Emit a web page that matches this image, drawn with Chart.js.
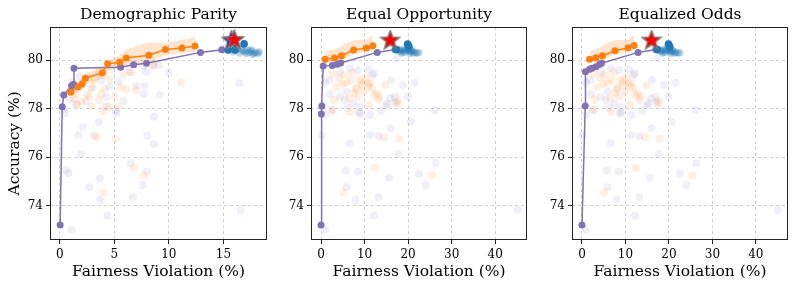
<!DOCTYPE html>
<html>
<head>
<meta charset="utf-8">
<script src="https://cdn.jsdelivr.net/npm/chart.js@4.4.1/dist/chart.umd.min.js"></script>
<style>
  html, body { margin: 0; padding: 0; background: #fff; width: 797px; height: 287px; overflow: hidden; }
  canvas { position: absolute; top: 0; }
</style>
</head>
<body>
<canvas id="dp" width="272" height="287" style="left:0"></canvas>
<canvas id="eo" width="252" height="287" style="left:280px"></canvas>
<canvas id="eq" width="253" height="287" style="left:540px"></canvas>
<script>
// ---- data ----
const titles = ['Demographic Parity', 'Equal Opportunity', 'Equalized Odds'];

// Demographic Parity
const dpPurpleLine = [[0.03,73.19],[0.22,78.08],[0.36,78.57],[1.08,78.95],[1.26,79.01],[1.3,79.67],[5.58,79.72],[6.77,79.82],[7.95,79.88],[12.9,80.33],[14.85,80.44]];
const dpOrangeLine = [[1.0,78.68],[1.68,78.91],[2.04,79.02],[2.35,79.26],[3.9,79.49],[4.39,79.86],[5.49,79.92],[6.1,80.1],[8.17,80.21],[9.67,80.45],[11.2,80.51],[12.4,80.59]];
const dpBandHigh = [78.84,79.1,79.25,79.46,79.74,79.95,80.22,80.45,80.75,80.72,80.85,80.98];
const dpBandLow = [78.5,78.7,78.82,78.98,79.26,79.55,79.7,79.8,79.92,80.2,80.3,80.36];
const dpBlue = [[15.4,80.43],[15.6,80.5],[15.8,80.58],[16.1,80.43],[16.3,80.5],[16.6,80.45],[16.9,80.68],[16.8,80.4],[17.0,80.35],[17.2,80.42],[17.4,80.33],[17.6,80.38],[17.8,80.3],[18.0,80.33],[18.2,80.28],[16.5,80.3],[17.1,80.28],[17.7,80.25],[15.9,80.35],[16.2,80.62],[18.3,80.35],[17.5,80.45]];
const dpBlueSolid = [[15.45,80.43],[16.07,80.43],[16.9,80.68]];
const dpStarBlue = [[15.75,80.82]];
const dpStarRed = [[16.0,80.84]];
const dpBgPurple = [[0.49,77.81],[2.13,77.23],[3.57,77.44],[1.68,76.91],[3.14,76.88],[8.02,76.88],[8.6,76.54],[1.92,76.13],[6.5,75.74],[8.02,75.4],[0.55,75.47],[0.8,75.33],[3.66,75.12],[7.62,74.85],[2.68,74.75],[6.7,74.34],[3.69,74.23],[4.36,73.58],[1.07,72.99],[16.6,73.81],[16.46,79.05],[5.18,77.81],[4.2,78.1],[8.63,77.67],[9.15,78.57],[5.82,78.33],[5.34,79.14],[6.4,79.53],[7.93,79.53],[7.62,79.74],[8.54,79.81],[10.0,79.49],[9.09,79.81],[7.77,78.94],[7.0,78.94],[7.71,78.61],[5.12,77.94],[2.9,78.84],[1.83,79.35],[4.57,78.91],[3.81,79.19],[4.27,78.5],[0.9,78.4],[1.5,78.2],[2.4,78.3],[0.4,78.0]];
const dpBgOrange = [[3.41,76.82],[5.12,76.75],[6.8,75.56],[7.71,75.26],[4.03,74.55],[11.13,79.09],[3.6,78.36],[3.96,77.88],[4.5,78.08],[4.1,78.84],[6.1,78.8],[7.0,78.77],[5.03,78.5],[5.34,78.08],[1.5,78.6],[2.0,78.3],[2.5,78.6],[3.0,78.9],[2.7,78.5],[1.8,78.9],[2.2,79.1],[3.2,79.2],[1.3,78.4],[2.9,78.1],[4.6,79.2],[5.8,79.4],[3.5,79.5],[2.6,79.3],[1.2,79.1],[4.0,79.4],[6.5,79.5],[1.6,78.15],[3.8,78.6],[5.6,78.9],[8.6,79.8]];

// Equal Opportunity
const eoPurpleLine = [[0,73.19],[0.07,77.78],[0.2,78.11],[0.5,79.77],[2.6,79.79],[3.7,79.84],[4.5,79.89],[12.9,80.33],[17.0,80.45]];
const eoOrangeLine = [[0.95,80.05],[3.1,80.1],[4.7,80.19],[7.5,80.43],[10.4,80.51],[11.9,80.6]];
const eoBandHigh = [80.38,80.45,80.6,80.84,80.85,81.05];
const eoBandLow = [79.9,79.92,80.0,80.25,80.35,80.43];
const eoStarRed = [[15.9,80.82]];

// Equalized Odds
const eqPurpleLine = [[0,73.19],[0.75,78.11],[0.8,79.53],[1.74,79.63],[2.28,79.67],[3.2,79.74],[4.0,79.83],[4.5,79.88],[12.9,80.33],[17.0,80.45]];
const eqOrangeLine = [[1.74,80.05],[3.2,80.11],[4.7,80.19],[7.6,80.4],[10.6,80.52],[12.0,80.61]];
const eqBandHigh = [80.38,80.45,80.6,80.84,80.85,81.05];
const eqBandLow = [79.9,79.92,80.0,80.25,80.35,80.43];
const eqStarRed = [[16.0,80.82]];

// shared by the two opportunity panels
const eoBlue = [[17.2,80.42],[17.8,80.45],[18.3,80.4],[18.8,80.45],[19.2,80.38],[19.5,80.47],[20.1,80.6],[20.2,80.5],[20.0,80.4],[20.5,80.35],[20.8,80.42],[21.2,80.3],[21.6,80.33],[22.0,80.3],[22.5,80.32],[19.0,80.33],[18.5,80.3],[20.4,80.28],[21.0,80.38],[19.7,80.45],[18.0,80.38]];
const eoBlueSolid = [[19.9,80.67],[20.2,80.56],[17.3,80.45]];
const eoBgPurple = [[0.91,77.74],[0.15,76.91],[0.9,72.99],[6.6,76.57],[5.7,75.44],[5.87,74.75],[7.92,74.23],[8.5,75.4],[8.75,77.81],[11.3,76.91],[12.2,73.58],[13.2,74.34],[13.2,76.87],[15.6,75.14],[16.0,77.19],[17.7,76.13],[20.6,77.46],[22.5,75.31],[24.0,74.85],[26.1,77.94],[26.3,75.74],[45.1,73.81],[11.3,77.74],[13.8,77.92],[15.0,78.11],[15.9,78.43],[16.1,79.19],[16.9,78.5],[18.8,78.98],[19.9,78.5],[21.5,79.07],[17.3,80.08],[10.8,79.63],[12.2,79.46],[8.5,79.6],[6.6,79.67],[1.9,79.19],[2.05,78.6],[4.3,78.5],[5.5,78.36],[7.4,78.22],[8.9,78.08],[2.4,77.94],[4.4,79.53],[11.8,79.39],[0.9,79.07],[5.9,78.7],[15.2,78.22],[17.1,78.25],[9.0,77.83],[6.1,78.04]];
const eoBgOrange = [[12.3,75.56],[5.1,74.53],[25.5,75.25],[14.5,76.82],[17.9,76.75],[17.6,78.22],[17.6,78.33],[14.8,78.98],[2.7,79.46],[4.2,79.26],[5.0,79.02],[6.85,79.19],[8.0,78.84],[9.4,78.98],[9.9,78.7],[10.7,79.05],[11.0,78.92],[11.8,78.84],[12.9,78.64],[13.3,78.5],[7.6,78.64],[8.4,78.5],[6.5,78.43],[3.0,78.36],[2.7,77.95],[6.7,77.88],[11.0,78.15],[13.3,78.36],[5.3,79.39],[5.9,79.05],[8.2,78.84],[9.4,79.12],[11.3,79.07],[12.2,78.57],[10.2,79.3],[8.8,79.2],[7.2,79.5],[3.5,78.9]];

const PURPLE = '#8172b3';
const ORANGE = '#ff7f0e';
const BLUE = '#1f77b4';
const FONT = 'DejaVu Serif';

function pts(arr) { return arr.map(([x, y]) => ({x, y})); }
function band(line, ys) { return line.map(([x], i) => ({x, y: ys[i]})); }

function starImage(fill) {
  const c = document.createElement('canvas');
  c.width = 22; c.height = 22;
  const g = c.getContext('2d');
  g.beginPath();
  for (let i = 0; i < 10; i++) {
    const r = i % 2 ? 4.2 : 10;
    const a = -Math.PI / 2 + i * Math.PI / 5;
    g.lineTo(11 + r * Math.cos(a), 11 + r * Math.sin(a));
  }
  g.closePath();
  g.fillStyle = fill;
  g.fill();
  g.lineWidth = 1.4;
  g.strokeStyle = '#777';
  g.stroke();
  return c;
}

const frame = {
  id: 'frame',
  afterDraw(chart) {
    const {ctx, chartArea: a} = chart;
    ctx.save();
    ctx.strokeStyle = '#222';
    ctx.lineWidth = 1;
    ctx.strokeRect(Math.round(a.left) + 0.5, Math.round(a.top) + 0.5, Math.round(a.right - a.left) - 1, Math.round(a.bottom - a.top) - 1);
    ctx.restore();
  }
};

function scatter(data, color, r, order) {
  return {data: pts(data), showLine: false, pointRadius: r, pointHoverRadius: r,
    pointBackgroundColor: color, pointBorderWidth: 0, order};
}

function makeChart(id, p) {
  const datasets = [
    scatter(p.bgPurple, 'rgba(129,114,179,0.12)', 4, 9),
    scatter(p.bgOrange, 'rgba(255,127,14,0.12)', 4, 8),
    {data: band(p.orange, p.low), borderWidth: 0, pointRadius: 0, fill: false, order: 7},
    {data: band(p.orange, p.high), borderWidth: 0, pointRadius: 0, fill: '-1',
      backgroundColor: 'rgba(255,127,14,0.2)', order: 6},
    {data: pts(p.purple), borderColor: PURPLE, borderWidth: 1.5, pointRadius: 3.5,
      pointBackgroundColor: PURPLE, pointBorderWidth: 0, order: 5},
    {data: pts(p.orange), borderColor: ORANGE, borderWidth: 1.5, pointRadius: 3.5,
      pointBackgroundColor: ORANGE, pointBorderWidth: 0, order: 4},
    scatter(p.blue, 'rgba(31,119,180,0.3)', 3.6, 3),
    scatter(p.blueSolid, BLUE, 3.8, 2),
  ];
  if (p.starBlue) {
    datasets.push({data: pts(p.starBlue), showLine: false, pointStyle: starImage('#1010e0'), order: 1});
  }
  datasets.push({data: pts(p.starRed), showLine: false, pointStyle: starImage('#ff0000'), order: 0});

  return new Chart(document.getElementById(id), {
    type: 'line',
    data: {datasets},
    plugins: [frame],
    options: {
      responsive: false,
      animation: false,
      events: [],
      layout: {padding: {left: 0, right: 4, top: 0, bottom: 0}},
      plugins: {
        legend: {display: false},
        tooltip: {enabled: false},
        title: {
          display: true, text: p.title, color: '#000', fullSize: false,
          font: {family: FONT, size: 15.5, weight: 'normal'},
          padding: {top: 6, bottom: 2.4},
        },
      },
      scales: {
        x: {
          type: 'linear', min: p.xMin, max: p.xMax,
          ticks: {stepSize: p.step, includeBounds: false, color: '#000', padding: 4,
            font: {family: FONT, size: 12}},
          grid: {color: 'rgba(176,176,176,0.8)', lineWidth: 0.8, tickLength: 4, tickColor: '#222', tickWidth: 1},
          border: {display: false, dash: [3, 3]},
          title: {display: true, text: 'Fairness Violation (%)', color: '#000',
            font: {family: FONT, size: 15.5}, padding: {top: 0, bottom: 6}},
          afterFit: s => { s.height = 47; },
        },
        y: {
          min: 72.57, max: 81.38,
          ticks: {stepSize: 2, includeBounds: false, color: '#000', padding: 3,
            font: {family: FONT, size: 12}},
          grid: {color: 'rgba(176,176,176,0.8)', lineWidth: 0.8, tickLength: 4, tickColor: '#222', tickWidth: 1},
          border: {display: false, dash: [3, 3]},
          title: {display: !!p.yTitle, text: p.yTitle || '', color: '#000',
            font: {family: FONT, size: 15.5}, padding: {top: 6, bottom: 0}},
          afterFit: s => { s.width = p.yWidth; },
        },
      },
    },
  });
}

makeChart('dp', {title: titles[0], xMin: -0.9, xMax: 19.0, step: 5, yWidth: 50, yTitle: 'Accuracy (%)    ',
  purple: dpPurpleLine, orange: dpOrangeLine, high: dpBandHigh, low: dpBandLow,
  blue: dpBlue, blueSolid: dpBlueSolid, starBlue: dpStarBlue, starRed: dpStarRed,
  bgPurple: dpBgPurple, bgOrange: dpBgOrange});
makeChart('eo', {title: titles[1], xMin: -2.3, xMax: 47.3, step: 10, yWidth: 31,
  purple: eoPurpleLine, orange: eoOrangeLine, high: eoBandHigh, low: eoBandLow,
  blue: eoBlue, blueSolid: eoBlueSolid, starRed: eoStarRed,
  bgPurple: eoBgPurple, bgOrange: eoBgOrange});
makeChart('eq', {title: titles[2], xMin: -2.3, xMax: 47.4, step: 10, yWidth: 32,
  purple: eqPurpleLine, orange: eqOrangeLine, high: eqBandHigh, low: eqBandLow,
  blue: eoBlue, blueSolid: eoBlueSolid, starRed: eqStarRed,
  bgPurple: eoBgPurple, bgOrange: eoBgOrange});
</script>
</body>
</html>
